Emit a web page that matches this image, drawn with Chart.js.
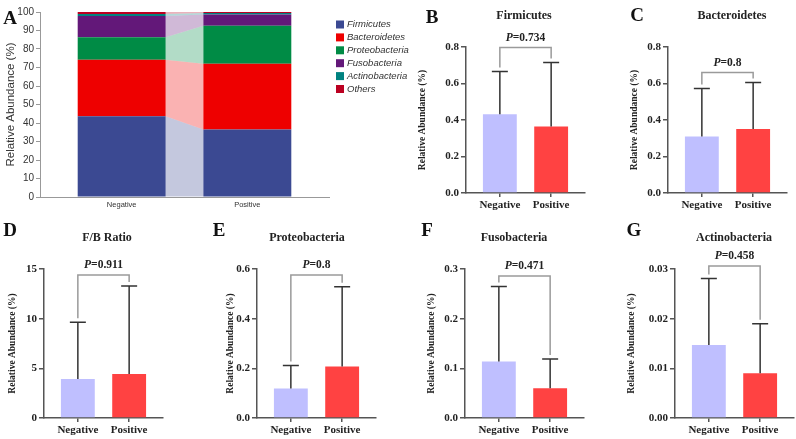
<!DOCTYPE html>
<html>
<head>
<meta charset="utf-8">
<script src="https://cdn.jsdelivr.net/npm/chart.js@4.4.1/dist/chart.umd.min.js"></script>
<style>
  body { margin: 0; background: #fff; width: 796px; height: 439px; overflow: hidden; position: relative; }
  canvas { position: absolute; }
  .tag { position: absolute; font: bold 19px "Liberation Serif", "Times New Roman", serif; color: #111; transform: translate(-50%, -50%); }
  .ttl { position: absolute; font: bold 12px "Liberation Serif", "Times New Roman", serif; color: #222; transform: translate(-50%, -50%); white-space: nowrap; }
</style>
</head>
<body>
<canvas id="pA" width="410" height="215" style="left:0;top:0"></canvas>
<script>
// groups and phyla
const groups = ['Negative', 'Positive'];
const phyla = ['Firmicutes', 'Bacteroidetes', 'Proteobacteria', 'Fusobacteria', 'Actinobacteria', 'Others'];
const phylumColors = ['#3B4992', '#EE0000', '#008B45', '#631879', '#008280', '#BB0021'];
const groupColors = ['#BFBFFF', '#FF4242'];

// panel A: relative abundance (%) of each phylum
const negativeComposition = [43.6, 30.6, 12.1, 11.5, 1.1, 1.1];
const positiveComposition = [36.5, 35.5, 20.6, 6.0, 0.8, 0.6];
const percentTicks = [0, 10, 20, 30, 40, 50, 60, 70, 80, 90, 100];

// panels B-G: mean and SD
const firmicutesMean = [0.431, 0.364];
const firmicutesSd = [0.235, 0.351];
const bacteroidetesMean = [0.309, 0.351];
const bacteroidetesSd = [0.264, 0.255];
const fbRatioMean = [3.92, 4.42];
const fbRatioSd = [5.72, 8.87];
const proteobacteriaMean = [0.119, 0.207];
const proteobacteriaSd = [0.092, 0.322];
const fusobacteriaMean = [0.114, 0.060];
const fusobacteriaSd = [0.151, 0.059];
const actinobacteriaMean = [0.0147, 0.0090];
const actinobacteriaSd = [0.0134, 0.0100];

const pValues = ['0.734', '0.8', '0.911', '0.8', '0.471', '0.458'];
const bracketLevels = [0.797, 0.66, 14.4, 0.576, 0.286, 0.0306];

const ticks08 = [0, 0.2, 0.4, 0.6, 0.8];
const ticks06 = [0, 0.2, 0.4, 0.6];
const ticks15 = [0, 5, 10, 15];
const ticks03 = [0, 0.1, 0.2, 0.3];
const ticks003 = [0, 0.01, 0.02, 0.03];

const serif = '"Liberation Serif", "Times New Roman", serif';
const sans = '"Liberation Sans", Arial, sans-serif';

function addText(cls, text, x, y) {
  const d = document.createElement('div');
  d.className = cls;
  d.textContent = text;
  d.style.left = x + 'px';
  d.style.top = y + 'px';
  document.body.appendChild(d);
}

// ribbons between the stacked bars
const flowPlugin = {
  id: 'flow',
  beforeDatasetsDraw(chart) {
    const ctx = chart.ctx;
    ctx.save();
    chart.data.datasets.forEach((ds, k) => {
      const [a, b] = chart.getDatasetMeta(k).data;
      const xa = a.x + a.width / 2, xb = b.x - b.width / 2;
      ctx.globalAlpha = 0.3;
      ctx.fillStyle = ds.backgroundColor;
      ctx.beginPath();
      ctx.moveTo(xa, a.y);
      ctx.lineTo(xb, b.y);
      ctx.lineTo(xb, b.base);
      ctx.lineTo(xa, a.base);
      ctx.closePath();
      ctx.fill();
    });
    ctx.restore();
  }
};

const sideLegend = {
  id: 'sideLegend',
  afterDraw(chart) {
    const ctx = chart.ctx;
    ctx.save();
    ctx.font = 'italic 9.5px ' + sans;
    ctx.textBaseline = 'middle';
    chart.data.datasets.forEach((ds, k) => {
      const y = 24.5 + k * 12.9;
      ctx.fillStyle = ds.backgroundColor;
      ctx.fillRect(336, y - 4, 8, 8);
      ctx.fillStyle = '#333';
      ctx.fillText(ds.label, 347, y);
    });
    ctx.restore();
  }
};

new Chart(document.getElementById('pA'), {
  type: 'bar',
  data: {
    datasets: phyla.map((name, k) => ({
      label: name,
      data: [negativeComposition[k], positiveComposition[k]].map((v, i) => ({ x: i, y: v })),
      backgroundColor: phylumColors[k],
      borderWidth: 0,
      barPercentage: 1,
      categoryPercentage: 0.70
    }))
  },
  options: {
    responsive: false,
    animation: false,
    layout: { padding: { top: 12, right: 81, left: 0, bottom: 0 } },
    plugins: { legend: { display: false }, tooltip: { enabled: false } },
    scales: {
      x: {
        type: 'linear', stacked: true, min: -0.65, max: 1.65, offset: false,
        afterBuildTicks: s => { s.ticks = groups.map((g, i) => ({ value: i })); },
        afterFit: s => { s.height = 18; },
        ticks: { callback: v => groups[v], font: { family: sans, size: 7.5 }, color: '#333', padding: 3, maxRotation: 0, autoSkip: false },
        grid: { display: false, drawTicks: false, offset: false },
        border: { color: '#999', width: 1 }
      },
      y: {
        stacked: true, min: 0, max: 100,
        afterBuildTicks: s => { s.ticks = percentTicks.map(v => ({ value: v })); },
        afterFit: s => { s.width = 40; },
        ticks: { font: { family: sans, size: 10 }, color: '#333', padding: 2 },
        grid: { drawOnChartArea: false, tickLength: 4, color: '#999' },
        border: { color: '#999', width: 1 },
        title: { display: true, text: 'Relative Abundance (%)', font: { family: sans, size: 11.5 }, color: '#333', padding: { top: 4, bottom: 0 } }
      }
    }
  },
  plugins: [flowPlugin, sideLegend]
});

// error bars, bracket and P value
const statsPlugin = {
  id: 'stats',
  afterDatasetsDraw(chart, args, opts) {
    const ctx = chart.ctx, y = chart.scales.y;
    const bars = chart.getDatasetMeta(0).data;
    const tops = [];
    ctx.save();
    ctx.strokeStyle = '#333';
    ctx.lineWidth = 1.5;
    bars.forEach((bar, i) => {
      const top = y.getPixelForValue(opts.mean[i] + opts.sd[i]);
      tops.push(top);
      ctx.beginPath();
      ctx.moveTo(bar.x, bar.y);
      ctx.lineTo(bar.x, top);
      ctx.moveTo(bar.x - 8, top);
      ctx.lineTo(bar.x + 8, top);
      ctx.stroke();
    });
    const by = y.getPixelForValue(opts.bracket);
    ctx.strokeStyle = '#9a9a9a';
    ctx.beginPath();
    ctx.moveTo(bars[0].x, tops[0] - 4);
    ctx.lineTo(bars[0].x, by);
    ctx.lineTo(bars[1].x, by);
    ctx.lineTo(bars[1].x, tops[1] - 4);
    ctx.stroke();

    const cx = (bars[0].x + bars[1].x) / 2;
    ctx.fillStyle = '#222';
    ctx.textBaseline = 'middle';
    ctx.font = 'italic bold 11.5px ' + serif;
    const w1 = ctx.measureText('P').width;
    ctx.font = 'bold 11.5px ' + serif;
    const rest = '=' + opts.p;
    const w2 = ctx.measureText(rest).width;
    const x0 = cx - (w1 + w2) / 2;
    ctx.font = 'italic bold 11.5px ' + serif;
    ctx.fillText('P', x0, by - 10);
    ctx.font = 'bold 11.5px ' + serif;
    ctx.fillText(rest, x0 + w1, by - 10);
    ctx.restore();
  }
};

const panels = [
  { tag: 'B', title: 'Firmicutes', mean: firmicutesMean, sd: firmicutesSd, ticks: ticks08, dec: 1, x0: 466, top: 47, bottom: 193, yw: 50, titleAt: [524, 15], tagAt: [432, 17] },
  { tag: 'C', title: 'Bacteroidetes', mean: bacteroidetesMean, sd: bacteroidetesSd, ticks: ticks08, dec: 1, x0: 668, top: 47, bottom: 193, yw: 40, titleAt: [732, 15], tagAt: [637, 15] },
  { tag: 'D', title: 'F/B Ratio', mean: fbRatioMean, sd: fbRatioSd, ticks: ticks15, dec: 0, x0: 44, top: 269, bottom: 418, yw: 38, titleAt: [107, 237], tagAt: [10, 230] },
  { tag: 'E', title: 'Proteobacteria', mean: proteobacteriaMean, sd: proteobacteriaSd, ticks: ticks06, dec: 1, x0: 257, top: 269, bottom: 418, yw: 33, titleAt: [307, 237], tagAt: [219, 230] },
  { tag: 'F', title: 'Fusobacteria', mean: fusobacteriaMean, sd: fusobacteriaSd, ticks: ticks03, dec: 1, x0: 465, top: 269, bottom: 418, yw: 40, titleAt: [514, 237], tagAt: [427, 230] },
  { tag: 'G', title: 'Actinobacteria', mean: actinobacteriaMean, sd: actinobacteriaSd, ticks: ticks003, dec: 2, x0: 675, top: 269, bottom: 418, yw: 50, titleAt: [734, 237], tagAt: [634, 230] }
];

addText('tag', 'A', 10, 18);

panels.forEach((p, n) => {
  const padTop = 30, xh = 30, padRight = 10, axisLen = 119;
  const cv = document.createElement('canvas');
  cv.width = p.yw + axisLen + padRight;
  cv.height = (p.bottom - p.top) + padTop + xh;
  cv.style.left = (p.x0 - p.yw) + 'px';
  cv.style.top = (p.top - padTop) + 'px';
  document.body.appendChild(cv);

  new Chart(cv, {
    type: 'bar',
    data: {
      datasets: [{
        data: p.mean.map((v, i) => ({ x: i, y: v })),
        backgroundColor: groupColors,
        borderWidth: 0,
        barPercentage: 1,
        categoryPercentage: 0.66
      }]
    },
    options: {
      responsive: false,
      animation: false,
      layout: { padding: { top: padTop, right: padRight, left: 0, bottom: 0 } },
      plugins: {
        legend: { display: false },
        tooltip: { enabled: false },
        stats: { mean: p.mean, sd: p.sd, bracket: bracketLevels[n], p: pValues[n] }
      },
      scales: {
        x: {
          type: 'linear', min: -0.66, max: 1.66, offset: false,
          afterBuildTicks: s => { s.ticks = groups.map((g, i) => ({ value: i })); },
          afterFit: s => { s.height = xh; },
          ticks: { callback: v => groups[v], font: { family: serif, size: 11, weight: 'bold' }, color: '#222', padding: 2, maxRotation: 0, autoSkip: false },
          grid: { drawOnChartArea: false, offset: false, tickLength: 4, color: '#555', lineWidth: 1.5 },
          border: { color: '#555', width: 1.5 }
        },
        y: {
          min: 0, max: p.ticks[p.ticks.length - 1],
          afterBuildTicks: s => { s.ticks = p.ticks.map(v => ({ value: v })); },
          afterFit: s => { s.width = p.yw; },
          ticks: { callback: v => v.toFixed(p.dec), font: { family: serif, size: 11, weight: 'bold' }, color: '#222', padding: 2 },
          grid: { drawOnChartArea: false, tickLength: 5, color: '#555', lineWidth: 1.5 },
          border: { color: '#555', width: 1.5 },
          title: { display: true, text: 'Relative Abundance (%)', font: { family: serif, size: 9.5, weight: 'bold' }, color: '#222', padding: { top: 1, bottom: 0 } }
        }
      }
    },
    plugins: [statsPlugin]
  });

  addText('tag', p.tag, p.tagAt[0], p.tagAt[1]);
  addText('ttl', p.title, p.titleAt[0], p.titleAt[1]);
});
</script>
</body>
</html>
